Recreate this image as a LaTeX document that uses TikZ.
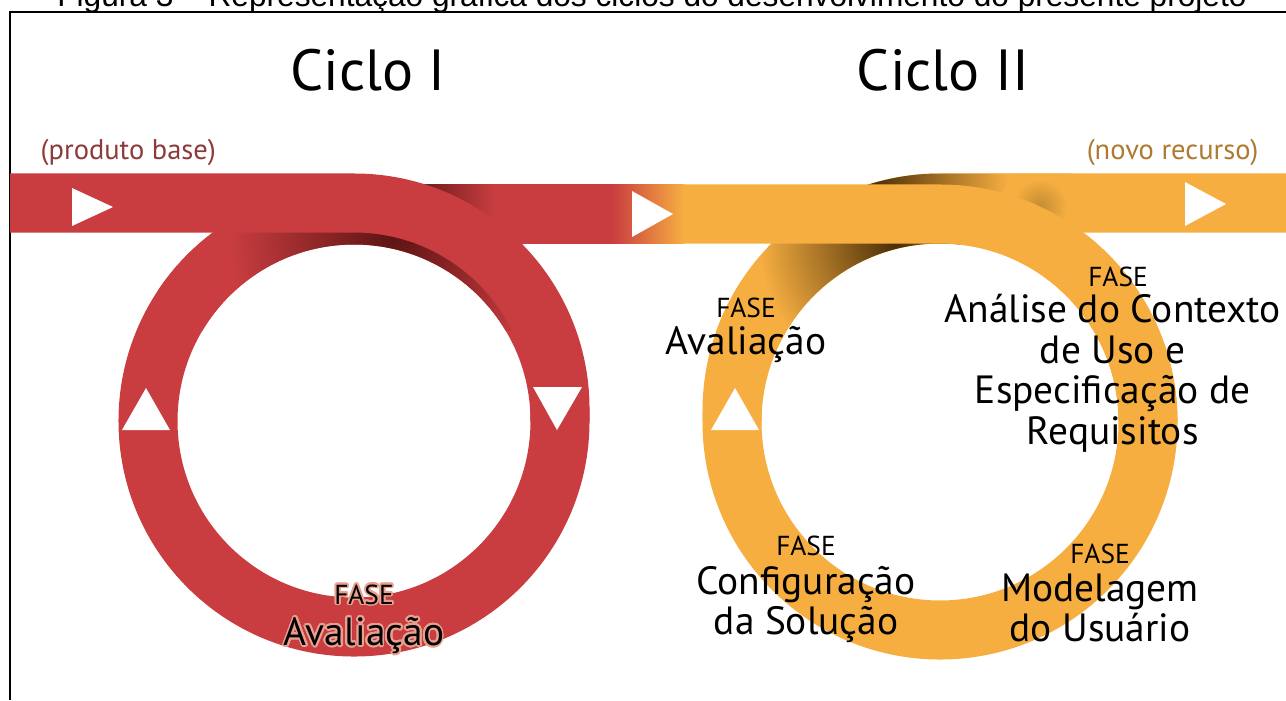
\documentclass[tikz,border=0pt]{standalone}
\usepackage{fontspec}
\setmainfont{PT Sans}
\newfontfamily\legendafont{Liberation Sans}
\usepackage{contour}
\usetikzlibrary{positioning}

\definecolor{vermelho}{HTML}{C93D40}
\definecolor{vermelhoescuro}{HTML}{5E1414}
\definecolor{laranja}{HTML}{F6AE41}
\definecolor{laranjaescuro}{HTML}{4A2E06}
\definecolor{laranjamedio}{HTML}{C48C33}
\definecolor{txtbase}{HTML}{8C3A3A}
\definecolor{txtnovo}{HTML}{AE7A30}
\definecolor{halo}{HTML}{E9A08F}

\pgfdeclareradialshading{sombraV}{\pgfpoint{0bp}{0bp}}{color(0bp)=(vermelhoescuro); color(17bp)=(vermelho); color(50bp)=(vermelho)}
\pgfdeclareradialshading{sombraL}{\pgfpoint{0bp}{0bp}}{color(0bp)=(laranjaescuro); color(17bp)=(laranja); color(50bp)=(laranja)}
\pgfdeclareradialshading{sombraLm}{\pgfpoint{0bp}{0bp}}{color(0bp)=(laranjamedio); color(17bp)=(laranja); color(50bp)=(laranja)}

\contourlength{0.5pt}
\contournumber{24}

\tikzset{
  faixa/.style={line width=0.59cm},
  seta/.style={fill=white},
  titulo/.style={font=\fontsize{16.5}{18}\selectfont, anchor=base, inner sep=0pt},
  rotulo/.style={font=\fontsize{8.1}{10}\selectfont, inner sep=0pt},
  fase/.style={font=\fontsize{7.8}{9}\selectfont, anchor=base, inner sep=0pt},
  nome/.style={font=\fontsize{11.2}{11.5}\selectfont, align=center, inner sep=0pt},
}

\begin{document}
\begin{tikzpicture}[x=0.01cm, y=-0.01cm]
\useasboundingbox (0,0) rectangle (1286,700);
\clip (0,0) rectangle (1286,700);

% legenda (cortada no topo)
\node[font=\legendafont\fontsize{9}{10}\selectfont, anchor=base, inner sep=0pt] (legenda) at (652,6)
  {Figura 3 – Representação gráfica dos ciclos do desenvolvimento do presente projeto};
\draw[line width=0.7pt] (10,700) -- (10,12) -- (1286,12);

% aneis: passagem de baixo
\draw[faixa, vermelho] (354,421) circle[radius=206];
\draw[faixa, laranja] (940,422) circle[radius=208];

% faixa entre os ciclos
\draw[faixa, vermelho] (354,214) -- (612,214);
\fill[left color=vermelho, right color=laranja] (612,184.5) rectangle (684,243.5);

% ciclo II: volta por baixo e saida
\draw[faixa, laranja] (732,422) -- (732,411) arc[start angle=180, end angle=270, radius=208] -- (1286,203);

% sombras
\begin{scope}[even odd rule]
  \clip (354,421) circle[radius=235.5] (354,421) circle[radius=176.5];
  \clip (150,228) rectangle (600,330);
  \shade[shading=sombraV] (392,238) circle[radius=240];
\end{scope}
\fill[left color=vermelhoescuro, right color=vermelho] (408,184.5) rectangle (495,243.5);
\begin{scope}[even odd rule]
  \clip (940,411) circle[radius=237.5] (940,422) circle[radius=178.5];
  \clip (700,243) rectangle (960,350);
  \shade[shading=sombraL] (895,244) circle[radius=200];
\end{scope}
\begin{scope}
  \clip (940,173.5) arc[start angle=-90, end angle=-150, radius=237.5]
    -- (940,300) -- (1120,300) -- (1120,173.5) -- cycle;
  \clip (860,170) rectangle (1120,232.5);
  \shade[shading=sombraL] (872,180) circle[radius=200];
  \shade[shading=sombraLm] (1040,206) circle[radius=40];
\end{scope}

% passagem de cima
\draw[faixa, vermelho] (10,203) -- (354,203) arc[start angle=-90, end angle=0, radius=206] -- (560,421);
\draw[faixa, laranja] (684,214) -- (940,214) arc[start angle=-90, end angle=0, radius=208];

% setas
\fill[seta] (72,188) -- (72,226) -- (113,207) -- cycle;
\fill[seta] (632,191) -- (632,237) -- (673,214) -- cycle;
\fill[seta] (1185,182) -- (1185,226) -- (1226,204) -- cycle;
\fill[seta] (122,430) -- (170,430) -- (146,388) -- cycle;
\fill[seta] (533,387) -- (582,387) -- (557,430) -- cycle;
\fill[seta] (711,430) -- (759,430) -- (735,388) -- cycle;

% titulos
\node[titulo] (cicloI) at (368,90) {Ciclo I};
\node[titulo] (cicloII) at (943,90) {Ciclo II};
\node[rotulo, text=txtbase, anchor=base west] (base) at (40,159) {(produto base)};
\node[rotulo, text=txtnovo, anchor=base east] (novo) at (1259,159) {(novo recurso)};

% fases
\node[fase] (faseA) at (364,604) {\contour{halo}{FASE}};
\node[nome, below=2.8pt of faseA] (avalA) {\contour{halo}{Avaliação}};
\node[fase] (faseB) at (746,317) {FASE};
\node[nome, below=2.3pt of faseB] (avalB) {Avaliação};
\node[fase] (faseC) at (1118,286) {FASE};
\node[nome, below=1.9pt of faseC, xshift=-1.5pt] (analise) {Análise do Contexto\\de Uso e\\Especificação de\\Requisitos};
\node[fase] (faseD) at (806,555) {FASE};
\node[nome, below=2.6pt of faseD] (config) {Configuração\\da Solução};
\node[fase] (faseE) at (1100,563) {FASE};
\node[nome, below=2.6pt of faseE] (modelo) {Modelagem\\do Usuário};
\end{tikzpicture}
\end{document}
